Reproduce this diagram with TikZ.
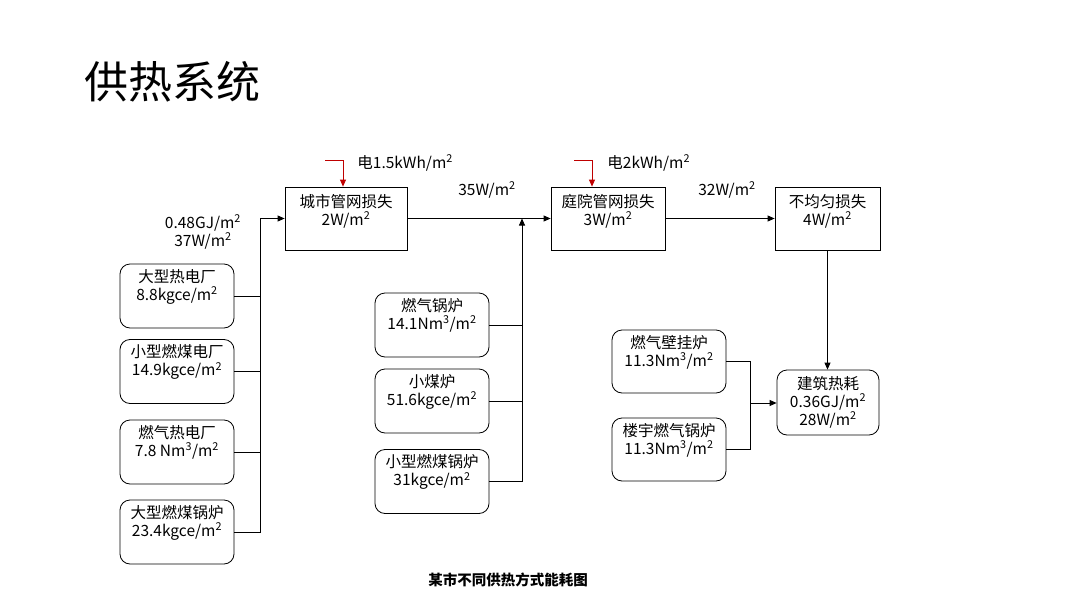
\documentclass[tikz,border=0pt]{standalone}
\usepackage{fontspec}
\setmainfont{Noto Sans CJK SC}
\usetikzlibrary{arrows.meta,positioning}
\newcommand{\sq}{\textsuperscript{2}}
\newcommand{\cu}{\textsuperscript{3}}
\begin{document}
\begin{tikzpicture}[x=1pt,y=-1pt,
  font=\fontsize{15.5}{18}\selectfont,
  line width=0.8pt,
  sbox/.style={draw, rectangle, inner sep=0pt},
  rbox/.style={draw, rectangle, rounded corners=10pt, inner sep=0pt},
  txt/.style={align=center, inner sep=0pt, anchor=north},
  lbl/.style={align=center, inner sep=0pt},
  arr/.style={-{Triangle[length=7pt,width=6pt]}},
  redarr/.style={draw=red!75!black, -{Triangle[length=7pt,width=6pt]}}
]
\useasboundingbox (0,0) rectangle (1080,608);
% title
\node[inner sep=0pt, anchor=west] (title) at (84,82) {\fontsize{44}{50}\selectfont 供热系统};
% square boxes
\node[sbox, minimum width=122pt, minimum height=63pt] (c1) at (346,218.5) {};
\node[txt] (c1t) at ([yshift=-7pt]c1.north) {城市管网损失\\2W/m\sq};
\node[sbox, minimum width=114pt, minimum height=63pt] (c2) at (608,218.5) {};
\node[txt] (c2t) at ([yshift=-7pt]c2.north) {庭院管网损失\\3W/m\sq};
\node[sbox, minimum width=105pt, minimum height=63pt] (c3) at (827.5,218.5) {};
\node[txt] (c3t) at ([yshift=-7pt]c3.north) {不均匀损失\\4W/m\sq};
% left sources
\node[rbox, minimum width=114pt, minimum height=64pt] (b1) at (177,296) {};
\node[txt] (b1t) at ([yshift=-5pt]b1.north) {大型热电厂\\8.8kgce/m\sq};
\node[rbox, minimum width=114pt, minimum height=64pt] (b2) at (177,371.5) {};
\node[txt] (b2t) at ([yshift=-5pt]b2.north) {小型燃煤电厂\\14.9kgce/m\sq};
\node[rbox, minimum width=114pt, minimum height=64pt] (b3) at (177,452) {};
\node[txt] (b3t) at ([yshift=-5pt]b3.north) {燃气热电厂\\7.8 Nm\cu/m\sq};
\node[rbox, minimum width=114pt, minimum height=64pt] (b4) at (177,532) {};
\node[txt] (b4t) at ([yshift=-5pt]b4.north) {大型燃煤锅炉\\23.4kgce/m\sq};
% middle sources
\node[rbox, minimum width=114pt, minimum height=64pt] (m1) at (432,325) {};
\node[txt] (m1t) at ([yshift=-5pt]m1.north) {燃气锅炉\\14.1Nm\cu/m\sq};
\node[rbox, minimum width=114pt, minimum height=64pt] (m2) at (432,401) {};
\node[txt] (m2t) at ([yshift=-5pt]m2.north) {小煤炉\\51.6kgce/m\sq};
\node[rbox, minimum width=114pt, minimum height=64pt] (m3) at (432,481.5) {};
\node[txt] (m3t) at ([yshift=-5pt]m3.north) {小型燃煤锅炉\\31kgce/m\sq};
% right sources
\node[rbox, minimum width=114pt, minimum height=63pt] (r1) at (669,361.5) {};
\node[txt] (r1t) at ([yshift=-5pt]r1.north) {燃气壁挂炉\\11.3Nm\cu/m\sq};
\node[rbox, minimum width=114pt, minimum height=63pt] (r2) at (669,449.5) {};
\node[txt] (r2t) at ([yshift=-5pt]r2.north) {楼宇燃气锅炉\\11.3Nm\cu/m\sq};
% building
\node[rbox, minimum width=102pt, minimum height=65pt] (h) at (828,402.5) {};
\node[txt] (ht) at ([yshift=-6pt]h.north) {建筑热耗\\0.36GJ/m\sq\\28W/m\sq};
% labels
\node[lbl] (l1) at (203,232) {0.48GJ/m\sq\\37W/m\sq};
\node[lbl] (l2) at (487,190) {35W/m\sq};
\node[lbl] (l3) at (727,190) {32W/m\sq};
\node[lbl, anchor=west] (e1l) at (357,163) {电1.5kWh/m\sq};
\node[lbl, anchor=west] (e2l) at (607,163) {电2kWh/m\sq};
\node[lbl] (cap) at (508,580) {\fontsize{14.5}{16}\selectfont\bfseries 某市不同供热方式能耗图};
% junctions
\coordinate (j1) at (260,218.5);
\coordinate (j2) at (522,218.5);
\coordinate (j3) at (750,403);
\coordinate (e1) at (325,160);
\coordinate (e2) at (574,160);
% connectors
\draw[arr] (b4.east) -| (j1) -- (c1.west);
\draw (b1.east) -- (b1.east -| j1);
\draw (b2.east) -- (b2.east -| j1);
\draw (b3.east) -- (b3.east -| j1);
\draw[arr] (c1.east) -- (c2.west);
\draw[arr] (m3.east) -| (j2);
\draw (m1.east) -- (m1.east -| j2);
\draw (m2.east) -- (m2.east -| j2);
\draw[arr] (c2.east) -- (c3.west);
\draw[arr] (c3.south) -- (c3.south |- h.north);
\draw (r1.east) -| (j3);
\draw (r2.east) -| (j3);
\draw[arr] (j3) -- (j3 -| h.west);
\draw[redarr] (e1) -| ([xshift=-3pt]c1.north);
\draw[redarr] (e2) -| ([xshift=-16pt]c2.north);
\end{tikzpicture}
\end{document}
